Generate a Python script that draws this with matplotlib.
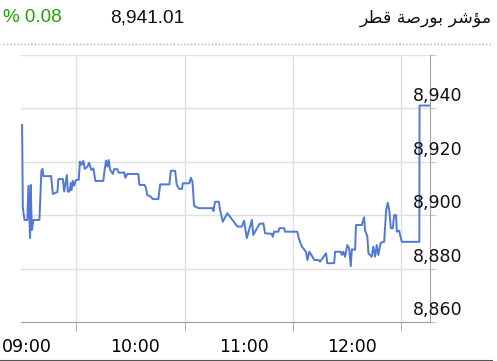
import matplotlib
matplotlib.use("Agg")
import matplotlib.pyplot as plt
import matplotlib.transforms as mtransforms
from matplotlib.lines import Line2D

# minutes after 09:00 and index value
minutes = [0, 0.4, 1.3, 2.9, 3.5, 4.4, 4.8, 5.4, 6.3, 9.6, 10.7, 11.3, 11.8, 16.1, 17.0,
           19.6, 20.1, 22.6, 23.3, 24.8, 25.3, 26.2, 27.0, 27.3, 28.1, 28.8, 29.9, 31.4,
           32.0, 32.9, 34.0, 34.7, 36.2, 37.1, 38.4, 39.5, 40.6, 45.0, 45.6, 46.5, 47.3,
           48.0, 48.8, 50.3, 51.0, 52.8, 53.4, 55.8, 56.5, 57.2, 58.3, 64.4, 65.0, 67.8,
           68.5, 69.4, 71.3, 72.4, 75.5, 76.5, 81.6, 82.4, 84.8, 85.7, 87.1, 88.6, 89.0,
           92.7, 93.5, 94.4, 95.3, 97.9, 105.7, 106.0, 106.9, 109.0, 109.7, 111.2, 113.7,
           115.2, 119.3, 121.7, 123.0, 124.5, 127.3, 128.1, 131.5, 133.7, 134.6, 138.3,
           138.9, 139.6, 142.0, 142.5, 145.2, 145.7, 152.5, 153.3, 155.0, 157.3, 158.1,
           159.2, 161.9, 164.2, 165.1, 168.4, 169.1, 172.9, 173.4, 176.6, 177.1, 178.0,
           178.9, 180.2, 181.2, 182.1, 182.7, 184.5, 185.0, 188.2, 189.5, 190.0, 191.3,
           191.9, 193.7, 194.6, 195.6, 196.5, 197.4, 198.7, 200.6, 201.7, 202.6, 203.5,
           204.3, 205.4, 206.1, 207.2, 207.6, 208.9, 209.4, 210.4, 220.1, 220.2, 226.0]
values = [8933.7, 8903.0, 8898.2, 8898.2, 8910.9, 8891.4, 8911.3, 8894.4, 8898.2, 8898.2,
          8916.6, 8917.3, 8914.6, 8914.6, 8907.9, 8908.7, 8913.5, 8913.5, 8908.8, 8915.0,
          8908.8, 8908.8, 8912.0, 8909.4, 8912.8, 8911.0, 8913.2, 8913.2, 8920.0, 8918.8,
          8920.3, 8917.3, 8918.1, 8919.6, 8916.9, 8917.5, 8912.8, 8912.8, 8916.3, 8920.4,
          8918.1, 8920.6, 8916.9, 8915.4, 8917.2, 8917.2, 8915.9, 8915.9, 8916.0, 8914.0,
          8915.4, 8915.4, 8911.3, 8911.3, 8910.4, 8907.5, 8906.9, 8906.0, 8906.0, 8911.5,
          8911.5, 8916.6, 8916.6, 8911.3, 8909.8, 8909.8, 8911.9, 8911.9, 8914.0, 8912.5,
          8903.4, 8902.6, 8902.6, 8901.5, 8905.0, 8905.0, 8901.9, 8897.5, 8900.7, 8899.4,
          8895.7, 8895.7, 8897.9, 8891.4, 8898.2, 8892.6, 8896.7, 8896.9, 8893.2, 8893.0,
          8891.9, 8893.8, 8893.8, 8895.1, 8895.1, 8893.8, 8893.8, 8891.3, 8888.2, 8886.3,
          8883.2, 8886.3, 8883.2, 8883.2, 8882.6, 8885.7, 8882.0, 8882.0, 8886.3, 8886.3,
          8885.1, 8886.3, 8884.4, 8888.8, 8887.6, 8880.9, 8887.2, 8887.0, 8896.3, 8896.3,
          8899.2, 8894.4, 8891.9, 8885.7, 8884.4, 8888.2, 8884.4, 8888.8, 8885.1, 8889.7,
          8890.0, 8901.9, 8904.6, 8901.3, 8895.1, 8895.1, 8900.0, 8900.0, 8893.8, 8894.2,
          8892.6, 8890.0, 8890.0, 8941.01, 8941.01]

hour_ticks = [0, 60, 120, 180]
hour_labels = ["09:00", "10:00", "11:00", "12:00"]
half_hours = [30, 90, 150, 210]
y_grid = [8860, 8880, 8900, 8920, 8940, 8960]
y_labels = ["8,860", "8,880", "8,900", "8,920", "8,940"]

title_ar = "\uFEAE\uFEC4\uFED7 \uFE94\uFEBB\uFEAD\uFEEE\uFE91 \uFEAE\uFEB7\uFE86\uFEE3"  # مؤشر بورصة قطر
last_value = "8,941.01"
change = "% 0.08"

W, H = 497, 361
fig = plt.figure(figsize=(W / 100, H / 100), dpi=100)
ax = fig.add_axes([21 / W, 39 / H, (430 - 21) / W, (322 - 54.8) / H])

ax.plot(minutes, values, color="#5077db", lw=1.4)
ax.set_xlim(-0.6, 226)
ax.set_ylim(8860, 8960)

for s in ["left", "top"]:
    ax.spines[s].set_visible(False)
ax.spines["bottom"].set_color("#a0a0a0")
ax.spines["right"].set_color("#a0a0a0")

# horizontal grid
ax.yaxis.tick_right()
ax.set_yticks(y_grid)
ax.tick_params(axis="y", which="major", length=4.5, color="#c8c8c8", labelright=False)
ax.grid(axis="y", color="#e0e0e0", lw=1)

# x: ticks + grid at half hours, labels at hours
ax.set_xticks(half_hours, minor=True)
ax.set_xticks(hour_ticks)
ax.set_xticklabels(hour_labels, fontsize=12.5, family="DejaVu Sans")
ax.tick_params(axis="x", which="major", length=0, pad=11.5)
ax.tick_params(axis="x", which="minor", length=6.5, color="#a0a0a0")
ax.grid(axis="x", which="minor", color="#e0e0e0", lw=1)
for lab in ax.get_xticklabels():
    lab.set_transform(lab.get_transform() + mtransforms.ScaledTranslation(5 / 100, 0, fig.dpi_scale_trans))

# y labels sit above their gridline
ytrans = mtransforms.offset_copy(ax.get_yaxis_transform(), fig=fig, x=0, y=12, units="dots")
for v, s in zip(y_grid, y_labels):
    ax.text((413 - 21) / (430 - 21), v, s, transform=ytrans, ha="left", va="center",
            fontsize=12.5, family="DejaVu Sans", color="#111111")

# header
fig.text(3 / W, 1 - 18 / H, change, color="#22a000", fontsize=13.5, family="Liberation Sans",
         ha="left", va="center")
fig.text(110 / W, 1 - 18 / H, last_value, color="#111111", fontsize=13.8, family="Liberation Sans",
         ha="left", va="center")
fig.text(492 / W, 1 - 18 / H, title_ar, color="#111111", fontsize=12.5, family="DejaVu Sans",
         ha="right", va="center")
fig.add_artist(Line2D([3 / W, 492 / W], [1 - 44 / H, 1 - 44 / H], transform=fig.transFigure,
                      color="#b0b0b0", lw=1, ls=(0, (1, 1.5))))
fig.add_artist(Line2D([0, 492 / W], [1 - 360.5 / H, 1 - 360.5 / H], transform=fig.transFigure,
                      color="#555555", lw=1.5))

fig.savefig("out.png", dpi=100)
